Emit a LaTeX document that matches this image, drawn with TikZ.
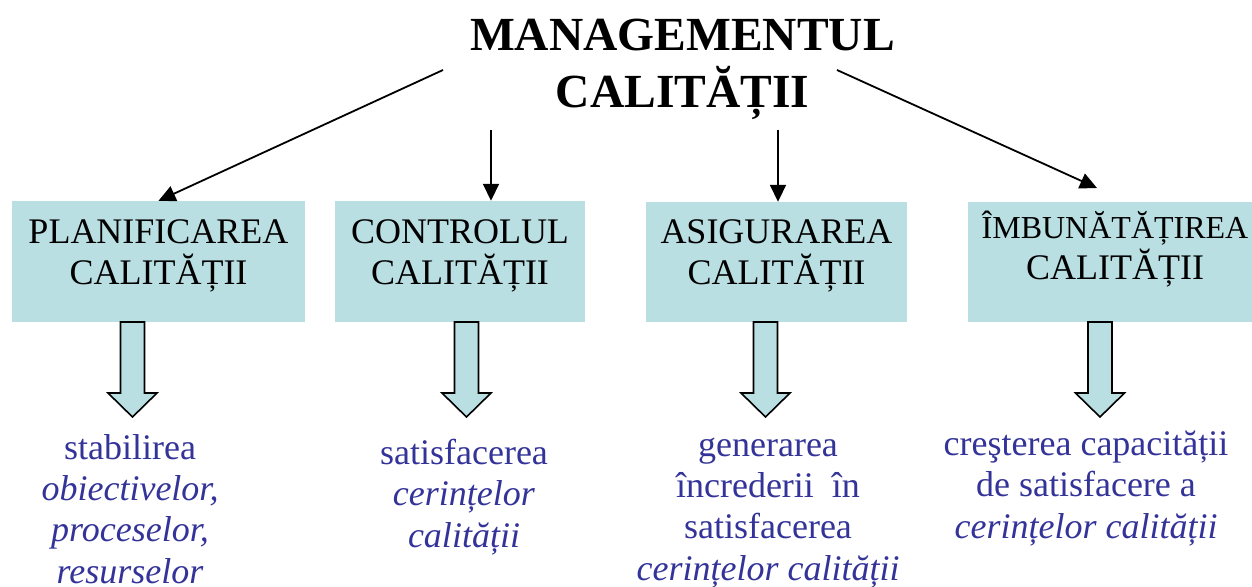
\documentclass[tikz,border=0pt]{standalone}
\usepackage{fontspec}
\setmainfont{Liberation Serif}
\usetikzlibrary{arrows.meta}
\definecolor{boxfill}{HTML}{B9DFE3}
\definecolor{txtblue}{HTML}{333399}
\begin{document}
\begin{tikzpicture}[x=1pt,y=-1pt,
 boxstyle/.style={fill=boxfill, draw=none, inner sep=0pt},
 boxtext/.style={font=\fontsize{36}{41}\selectfont, align=center, anchor=base, inner sep=0pt},
 desc/.style={font=\fontsize{36}{41.3}\selectfont, text=txtblue, align=center, anchor=base, inner sep=0pt},
 conn/.style={line width=1.8pt, -{Triangle[length=17pt,width=16pt]}},
 blockarrow/.style={fill=boxfill, draw=black, line width=1.6pt, line join=miter}
]
\path[use as bounding box] (0,0) rectangle (1252,586);

% title (base anchor = baseline of last line)
\node[font=\fontsize{47.5}{57}\selectfont\bfseries, align=center, anchor=base, inner sep=0pt] (t) at (682.5,107) {MANAGEMENTUL\\CALITĂȚII};

% boxes
\node[boxstyle, minimum width=293pt, minimum height=121pt] (b1) at (158.5,261.5) {};
\node[boxstyle, minimum width=250pt, minimum height=121pt] (b2) at (460,261.5) {};
\node[boxstyle, minimum width=261pt, minimum height=120pt] (b3) at (776.5,262) {};
\node[boxstyle, minimum width=284pt, minimum height=120pt] (b4) at (1110,262) {};

\node[boxtext] (l1) at (158.5,284) {PLANIFICAREA\\CALITĂȚII};
\node[boxtext] (l2) at (460,284) {CONTROLUL\\CALITĂȚII};
\node[boxtext] (l3) at (776.5,284) {ASIGURAREA\\CALITĂȚII};
\node[boxtext] (l4) at (1115,279) {{\fontsize{32}{41}\selectfont ÎMBUNĂTĂȚIREA}\\CALITĂȚII};

% connectors from title
\coordinate (s1) at (443,70);
\coordinate (s2) at (491,130);
\coordinate (s3) at (778,130);
\coordinate (s4) at (837,70);
\coordinate (e4) at (1097,188);
\draw[conn] (s1) -- (b1.north);
\draw[conn] (s2) -- (s2 |- b2.north);
\draw[conn] (s3) -- (s3 |- b3.north);
\draw[conn] (s4) -- (e4);

% block arrows
\foreach \cx in {132.5,466.5,765.5,1100}{
  \draw[blockarrow] (\cx-12,322) -- (\cx-12,393) -- (\cx-24.5,393) -- (\cx,417) -- (\cx+24.5,393) -- (\cx+12,393) -- (\cx+12,322) -- cycle;
}

% descriptions (base anchor = baseline of last line)
\node[desc] (d1) at (130,583) {stabilirea\\\textit{obiectivelor,}\\\textit{proceselor,}\\\textit{resurselor}};
\node[desc] (d2) at (464,547) {satisfacerea\\\textit{cerințelor}\\\textit{calității}};
\node[desc] (d3) at (768,580) {generarea\\încrederii\ \ în\\satisfacerea\\\textit{cerințelor calității}};
\node[desc] (d4) at (1086,538) {creşterea capacității\\de satisfacere a\\\textit{cerințelor calității}};
\end{tikzpicture}
\end{document}
